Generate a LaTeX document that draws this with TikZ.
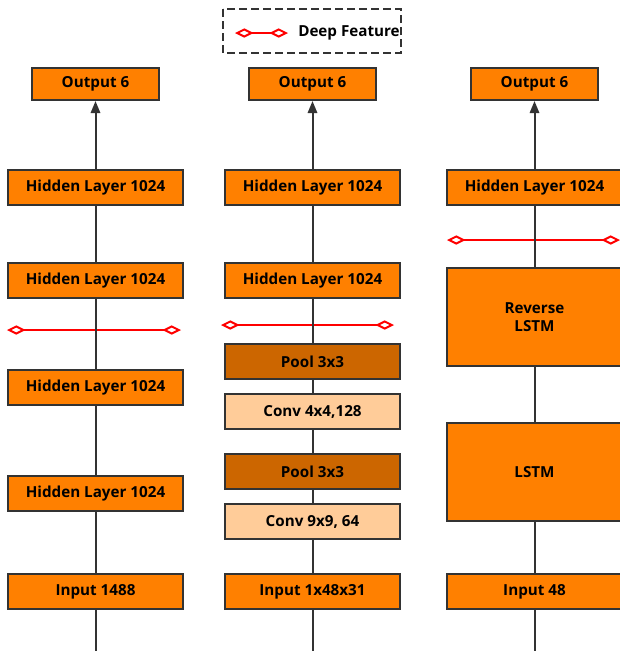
\documentclass[tikz,border=0pt]{standalone}
\usepackage{fontspec}
\setmainfont{Open Sans}
\usetikzlibrary{arrows.meta}
\definecolor{layerorange}{HTML}{FF8000}
\definecolor{poolorange}{HTML}{CC6600}
\definecolor{convorange}{HTML}{FFCC99}
\definecolor{edgegray}{HTML}{333333}
\begin{document}
\begin{tikzpicture}[x=0.75pt,y=-0.75pt,font=\bfseries\fontsize{11.4}{13.5}\selectfont,
  layer/.style={draw=edgegray,line width=1.5pt,fill=layerorange,minimum width=131.25pt,
    minimum height=26.25pt,inner sep=0pt,align=center},
  outbox/.style={layer,minimum width=95.25pt,minimum height=24pt},
  pool/.style={layer,fill=poolorange},
  conv/.style={layer,fill=convorange},
  rnn/.style={layer,minimum height=73.5pt},
  link/.style={draw=edgegray,line width=1.5pt},
  up/.style={link,-{Triangle[length=9pt,width=7pt]}},
  deep/.style={red,line width=1.5pt,
    {Diamond[open,length=14pt,width=7pt]}-{Diamond[open,length=14pt,width=7pt]}}]
  \useasboundingbox (0,0) rectangle (619,651);
  % legend
  \draw[edgegray,line width=1.5pt,dash pattern=on 6pt off 3pt] (223,9) rectangle (401,53);
  \draw[deep] (235,33) -- (288,33);
  \node[anchor=west,inner sep=0pt] (legtext) at (298,33) {Deep Feature};
  % deep feature taps
  \draw[deep] (7,330) -- (181,330);
  \draw[deep] (221,325) -- (394,325);
  \draw[deep] (447,240) -- (620,240);
  % fully connected column
  \node[outbox] (c1out) at (95.5,84) {Output 6};
  \node[layer] (c1h1) at (95.5,187.5) {Hidden Layer 1024};
  \node[layer] (c1h2) at (95.5,280.5) {Hidden Layer 1024};
  \node[layer] (c1h3) at (95.5,387.5) {Hidden Layer 1024};
  \node[layer] (c1h4) at (95.5,493.5) {Hidden Layer 1024};
  \node[layer] (c1in) at (95.5,591.5) {Input 1488};
  \coordinate (c1bot) at (95.5,651);
  % convolutional column
  \node[outbox] (c2out) at (312.5,84) {Output 6};
  \node[layer] (c2h1) at (312.5,187.5) {Hidden Layer 1024};
  \node[layer] (c2h2) at (312.5,280.5) {Hidden Layer 1024};
  \node[pool] (c2p1) at (312.5,361.5) {Pool 3x3};
  \node[conv] (c2c1) at (312.5,411.5) {Conv 4x4,128};
  \node[pool] (c2p2) at (312.5,471.5) {Pool 3x3};
  \node[conv] (c2c2) at (312.5,521.5) {Conv 9x9, 64};
  \node[layer] (c2in) at (312.5,591.5) {Input 1x48x31};
  \coordinate (c2bot) at (312.5,651);
  % recurrent column
  \node[outbox] (c3out) at (534.5,84) {Output 6};
  \node[layer] (c3h1) at (534.5,187.5) {Hidden Layer 1024};
  \node[rnn] (c3rev) at (534.5,317) {Reverse\\LSTM};
  \node[rnn] (c3lstm) at (534.5,472) {LSTM};
  \node[layer] (c3in) at (534.5,591.5) {Input 48};
  \coordinate (c3bot) at (534.5,651);
  % connectors
  \draw[link] (c1bot) -- (c1in);
  \draw[link] (c1in) -- (c1h4);
  \draw[link] (c1h4) -- (c1h3);
  \draw[link] (c1h3) -- (c1h2);
  \draw[link] (c1h2) -- (c1h1);
  \draw[up] (c1h1) -- (c1out);
  \draw[link] (c2bot) -- (c2in);
  \draw[link] (c2in) -- (c2c2);
  \draw[link] (c2c2) -- (c2p2);
  \draw[link] (c2p2) -- (c2c1);
  \draw[link] (c2c1) -- (c2p1);
  \draw[link] (c2p1) -- (c2h2);
  \draw[link] (c2h2) -- (c2h1);
  \draw[up] (c2h1) -- (c2out);
  \draw[link] (c3bot) -- (c3in);
  \draw[link] (c3in) -- (c3lstm);
  \draw[link] (c3lstm) -- (c3rev);
  \draw[link] (c3rev) -- (c3h1);
  \draw[up] (c3h1) -- (c3out);
\end{tikzpicture}
\end{document}
